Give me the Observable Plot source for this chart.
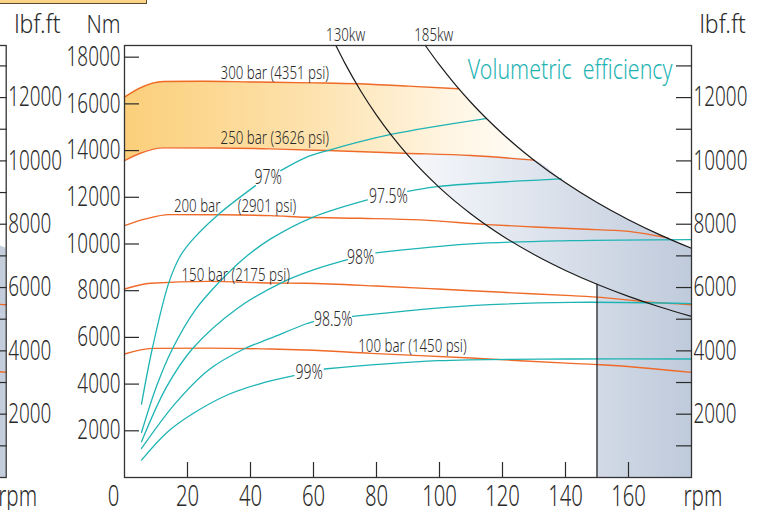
<!DOCTYPE html>
<html><head><meta charset="utf-8">
<script src="https://cdn.jsdelivr.net/npm/d3@7"></script>
<script src="https://cdn.jsdelivr.net/npm/@observablehq/plot@0.6"></script>
<style>
html,body{margin:0;padding:0;background:#fff;}
#wrap{position:relative;width:760px;height:510px;overflow:hidden;}
#tab{position:absolute;left:0;top:0;width:146px;height:3px;background:#fbd488;border-right:1px solid #5a4a30;border-bottom:1px solid #5a4a30;z-index:2;}
#wrap svg text{font-family:"Noto Sans",sans-serif;font-weight:300;}
</style></head><body><div id="wrap"><div id="tab"></div></div>
<script>
const NM_PER_LBFFT = 1.35582;
const xTicks = [20,40,60,80,100,120,140,160];
const xOrigin = [0];
const nmTicks = [2000,4000,6000,8000,10000,12000,14000,16000,18000];
const lbfTicks = [1000,2000,3000,4000,5000,6000,7000,8000,9000,10000,11000,12000,13000];
const lbfLabels = [2000,4000,6000,8000,10000,12000];

// pressure curves [rpm, Nm]
const bar300 = [[0,16290],[5,16690],[12.4,16960],[25,16970],[40,16940],[60,16900],[74,16860],[90,16760],[106.1,16645]];
const bar250 = [[0,13573],[5,13886],[12.4,14116],[30,14110],[46.4,14074],[64.4,14001],[88.8,13886],[110,13787],[130,13590]];
const bar200 = [[0,10787],[6.7,11074],[14.1,11259],[30,11250],[46.4,11216],[57.5,11143],[75,11100],[94.1,11031],[115.3,10830],[130,10730],[145,10640],[160,10540],[172.5,10260]];
const bar150 = [[0,8074],[8.3,8316],[26.8,8400],[46.4,8330],[57.5,8316],[80,8200],[99.4,8074],[120,7930],[141.8,7787],[151.3,7715],[167,7510],[180,7400]];
const bar100 = [[0,5287],[8.8,5530],[26.8,5540],[46.4,5503],[57.5,5460],[78.2,5316],[110,5116],[141.8,4887],[151.3,4830],[180,4500]];

// volumetric efficiency curves [rpm, Nm] (NaN = gap for label)
const eff97  = [[5.4,3146],[8.8,5503],[14.1,8357],[17.8,9508],[21.9,10230],[30,11288],[41.6,12500],[45,NaN],[49.6,13140],[57.5,13700],[64.5,14000],[84.6,14690],[114.7,15370]];
const eff975 = [[5.4,1929],[10.2,3921],[15.2,5503],[22.6,7200],[30,8357],[38.1,9403],[46.4,10217],[59.7,11143],[77.1,11889],[83,NaN],[89.9,12257],[99.4,12459],[138.6,12790]];
const eff98  = [[5.4,1530],[13.35,3879],[21.5,5503],[35.8,7239],[50.1,8357],[60.4,8910],[70.8,9330],[75,NaN],[79.8,9617],[110,10003],[141.8,10144],[180,10190]];
const eff985 = [[5.4,1243],[16.2,3184],[26.7,4607],[37.9,5503],[46.4,5966],[57.5,6574],[60,6680],[66,NaN],[72.4,6900],[110,7358],[141.8,7500],[180,7450]];
const eff99  = [[5.4,745],[13.4,1920],[21.5,2717],[32.1,3501],[42.7,4003],[53.8,4359],[58,NaN],[63.4,4646],[99.4,5001],[141.8,5074],[180,5074]];

// power curves [rpm, Nm]
const kw130 = [[67.1,18500],[70,17734],[75,16552],[80,15518],[85,14605],[90,13793],[100,12414],[110,11286],[120,10345],[130,9549],[140,8867],[150,8276],[160,7759],[170,7302],[180,6897]];
const kw185 = [[95.5,18500],[100,17666],[105,16825],[110,16060],[115,15362],[120,14722],[125,14133],[130,13589],[140,12619],[150,11777],[160,11041],[170,10392],[180,9815]];

// shaded bands
const bandRpm    = [0,5,12.4,25,40,60,74,90,106.1,110,115,120,125,130];
const bandTop    = [16290,16690,16960,16970,16940,16900,16860,16760,16645,16060,15362,14722,14133,13589];
const bandBottom = [13573,13886,14116,14112,14090,14030,13960,13880,13830,13787,13750,13700,13650,13590];
const blueRpm    = [89.4,95,100,110,120,130,140,150,160,170,180];
const blueTop    = [13885,13855,13840,13787,13720,13590,12619,11777,11041,10392,9815];
const blueBottom = [13885,13067,12414,11286,10345,9549,8867,8276,7759,7302,6897];
const lowRpm     = [150,160,170,180];
const lowTop     = [8276,7759,7302,6897];
const limitRpm   = 150;

const pressureLabels = [
  {rpm:30.5, nm:17344, text:"300 bar (4351 psi)"},
  {rpm:30.5, nm:14537, text:"250 bar (3626 psi)"},
  {rpm:15.7, nm:11644, text:"200 bar\u00a0\u00a0\u00a0\u00a0\u00a0(2901 psi)"},
  {rpm:18.1, nm:8687,  text:"150 bar (2175 psi)"},
  {rpm:74.2, nm:5623,  text:"100 bar (1450 psi)"}
];
const effLabels = [
  {rpm:45.6, nm:12823, text:"97%"},
  {rpm:83.8, nm:12030, text:"97.5%"},
  {rpm:75,   nm:9416,  text:"98%"},
  {rpm:66.3, nm:6759,  text:"98.5%"},
  {rpm:58.6, nm:4487,  text:"99%"}
];
const powerLabels = [{rpm:70.2, text:"130kw"},{rpm:98.2, text:"185kw"}];

const toRows = (arr, name) => arr.map(([rpm, nm]) => ({rpm, nm, name}));
const pressureRows = [
  ...toRows(bar300,"300"),...toRows(bar250,"250"),...toRows(bar200,"200"),
  ...toRows(bar150,"150"),...toRows(bar100,"100")];
const effRows = [
  ...toRows(eff97,"97"),...toRows(eff975,"97.5"),...toRows(eff98,"98"),
  ...toRows(eff985,"98.5"),...toRows(eff99,"99")];
const powerRows = [...toRows(kw130,"130"),...toRows(kw185,"185")];
const band = bandRpm.map((r,i)=>({rpm:r, lo:bandBottom[i], hi:bandTop[i]}));
const blue = blueRpm.map((r,i)=>({rpm:r, lo:blueBottom[i], hi:blueTop[i]}));
const low  = lowRpm.map((r,i)=>({rpm:r, lo:0, hi:lowTop[i]}));

const ORANGE = "#ef6a28", TEAL = "#1fb4b4", INK = "#2a2a2a";
const SHIFT = -685.3; // neighbouring panel visible at left edge
const toNm = v => v * NM_PER_LBFFT;
const str = d => String(d);

const defs = () => {
  const g = document.createElementNS("http://www.w3.org/2000/svg","defs");
  g.innerHTML = `
  <linearGradient id="og" x1="0" x2="1" y1="0" y2="0">
    <stop offset="0" stop-color="#fbcf7a"/>
    <stop offset="0.45" stop-color="#fde2ad"/>
    <stop offset="0.8" stop-color="#fff5e3"/>
    <stop offset="1" stop-color="#fffdf8"/>
  </linearGradient>
  <linearGradient id="bg" gradientUnits="userSpaceOnUse" x1="400" x2="691" y1="0" y2="0">
    <stop offset="0" stop-color="#f7f8fb"/>
    <stop offset="0.35" stop-color="#e4e9f1"/>
    <stop offset="1" stop-color="#bfcadb"/>
  </linearGradient>`;
  return g;
};

const chart = Plot.plot({
  width:760, height:510,
  marginLeft:124, marginRight:69, marginTop:45, marginBottom:33,
  x:{domain:[0,180], axis:null},
  y:{domain:[0,18500], axis:null},
  style:{background:"transparent", color:INK},
  marks:[
    defs,
    Plot.areaY(band, {x:"rpm", y1:"lo", y2:"hi", fill:"url(#og)", curve:"monotone-x"}),
    Plot.areaY(blue, {x:"rpm", y1:"lo", y2:"hi", fill:"url(#bg)", curve:"monotone-x"}),
    Plot.areaY(low,  {x:"rpm", y1:"lo", y2:"hi", fill:"url(#bg)", curve:"monotone-x"}),
    // neighbouring panel fragment
    Plot.areaY(blue, {x:"rpm", y1:"lo", y2:"hi", fill:"#c3cddc", curve:"monotone-x", dx:SHIFT}),
    Plot.areaY(low,  {x:"rpm", y1:"lo", y2:"hi", fill:"#c3cddc", curve:"monotone-x", dx:SHIFT}),
    Plot.line(pressureRows, {x:"rpm", y:"nm", z:"name", stroke:ORANGE, strokeWidth:1.4, curve:"monotone-x", dx:SHIFT}),
    Plot.line(pressureRows, {x:"rpm", y:"nm", z:"name", stroke:ORANGE, strokeWidth:1.4, curve:"monotone-x"}),
    Plot.line(effRows, {x:"rpm", y:"nm", z:"name", stroke:TEAL, strokeWidth:1.3, curve:"catmull-rom"}),
    Plot.line(powerRows, {x:"rpm", y:"nm", z:"name", stroke:"#1a1a1a", strokeWidth:1.2, curve:"monotone-x"}),
    Plot.ruleX([limitRpm], {y1:0, y2:lowTop[0], stroke:"#1a1a1a", strokeWidth:1.2}),
    Plot.frame({stroke:"#333", strokeWidth:1.3}),
    Plot.frame({stroke:"#333", strokeWidth:1.3, dx:SHIFT}),
    // tick marks (pointing into the frame)
    Plot.axisY(nmTicks, {anchor:"left", label:null, tickSize:15, dx:15, fill:"none", strokeWidth:1.2}),
    Plot.axisX(xTicks, {anchor:"bottom", label:null, tickSize:15, dy:-15, fill:"none", strokeWidth:1.2}),
    Plot.axisY(lbfTicks.map(toNm), {anchor:"right", label:null, tickSize:16, dx:-16, fill:"none", strokeWidth:1.2}),
    Plot.axisY(lbfTicks.map(toNm), {anchor:"right", label:null, tickSize:16, dx:-16+SHIFT, fill:"none", strokeWidth:1.2}),
    // tick labels
    Plot.text(nmTicks, {y:d=>d, text:str, frameAnchor:"left", textAnchor:"end", dx:-4, fontSize:27, fill:INK, className:"sqnum"}),
    Plot.text(xTicks, {x:d=>d, text:str, frameAnchor:"bottom", lineAnchor:"top", dy:8, fontSize:29, fill:INK, className:"sqnum"}),
    Plot.text(xOrigin, {x:d=>d, text:str, frameAnchor:"bottom", lineAnchor:"top", dy:8, dx:-11, fontSize:29, fill:INK, className:"sqnum"}),
    Plot.text(lbfLabels, {y:toNm, text:str, frameAnchor:"right", textAnchor:"start", dx:2, fontSize:27, fill:INK, className:"sqnum"}),
    Plot.text(lbfLabels, {y:toNm, text:str, frameAnchor:"right", textAnchor:"start", dx:2+SHIFT, fontSize:27, fill:INK, className:"sqnum"}),
    // labels
    Plot.text(pressureLabels, {x:"rpm", y:"nm", text:"text", textAnchor:"start", fontSize:19, fill:INK, className:"sq70"}),
    Plot.text(effLabels, {x:"rpm", y:"nm", text:"text", fontSize:20, fill:INK, className:"sq70"}),
    Plot.text(powerLabels, {x:"rpm", text:"text", frameAnchor:"top", lineAnchor:"middle", dy:-10.5, fontSize:19, fill:INK, className:"sq70"}),
    Plot.text(["Volumetric\u00a0 efficiency"], {frameAnchor:"top-right", lineAnchor:"middle", textAnchor:"end", dx:-19, dy:25, fontSize:27, fill:TEAL, className:"sq79"}),
    Plot.text(["Nm"], {frameAnchor:"top-left", lineAnchor:"middle", textAnchor:"end", dx:-4, dy:-21, fontSize:25, fill:INK, className:"sq84"}),
    Plot.text(["lbf.ft"], {frameAnchor:"top-right", lineAnchor:"middle", textAnchor:"start", dx:8, dy:-21, fontSize:25, fill:INK, className:"sq92"}),
    Plot.text(["lbf.ft"], {frameAnchor:"top-right", lineAnchor:"middle", textAnchor:"start", dx:8+SHIFT, dy:-21, fontSize:25, fill:INK, className:"sq92"}),
    Plot.text(["rpm"], {frameAnchor:"bottom-right", lineAnchor:"middle", textAnchor:"start", dx:-8, dy:19, fontSize:29, fill:INK, className:"sq71"}),
    Plot.text(["rpm"], {frameAnchor:"bottom-right", lineAnchor:"middle", textAnchor:"start", dx:-8+SHIFT, dy:19, fontSize:29, fill:INK, className:"sq71"})
  ]
});

// horizontally condense the lettering (the original uses a condensed face);
// the scale is appended after the text's own translate so its anchor stays put
function squeeze(cls, k) {
  chart.querySelectorAll(`.${cls} text`).forEach(t => {
    const tr = t.getAttribute("transform") || "";
    t.setAttribute("transform", `${tr} scale(${k},1)`);
  });
}
squeeze("sqnum", 0.7); squeeze("sq70", 0.7); squeeze("sq79", 0.79);
squeeze("sq84", 0.84); squeeze("sq92", 0.92); squeeze("sq71", 0.71);

const sx = chart.scale("x");
const bgGrad = chart.querySelector("#bg");
if (bgGrad) {
  bgGrad.setAttribute("x1", sx.apply(blueRpm[0]));
  bgGrad.setAttribute("x2", sx.apply(blueRpm[blueRpm.length-1]));
}
document.getElementById("wrap").prepend(chart);
</script>
</body></html>
